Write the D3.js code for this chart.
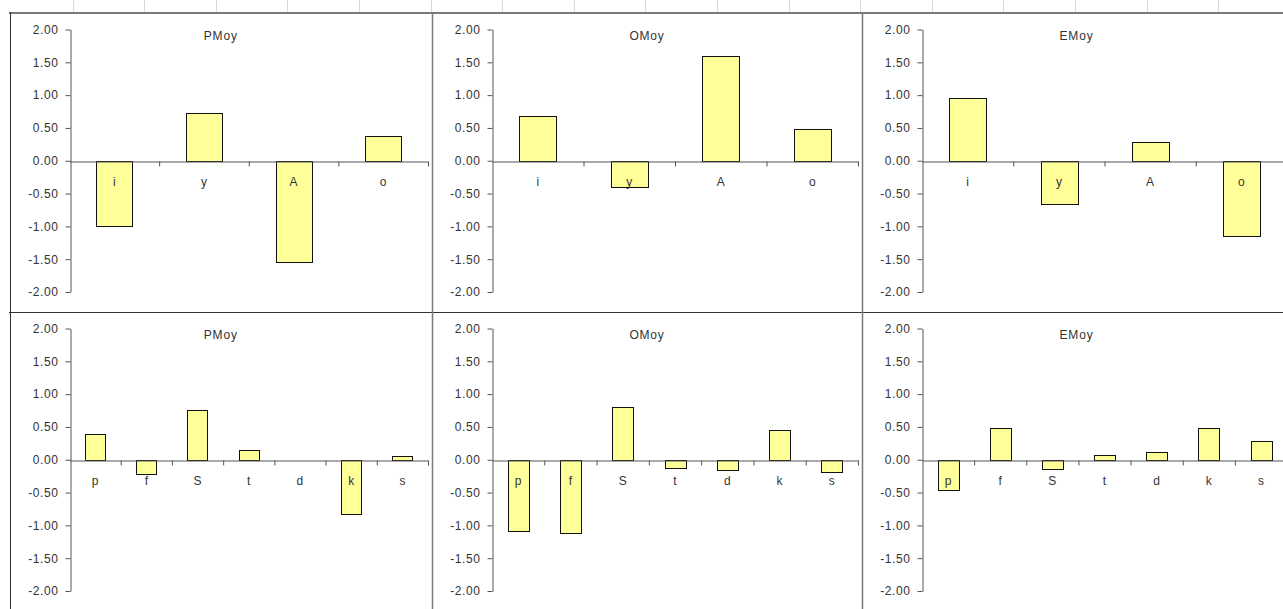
<!DOCTYPE html>
<html>
<head>
<meta charset="utf-8">
<script src="https://cdn.jsdelivr.net/npm/d3@7"></script>
<style>
  html, body { margin: 0; padding: 0; background: #fff; }
  svg { display: block; }
  text { font-family: "Liberation Sans", Arial, sans-serif; fill: #333; }
</style>
</head>
<body>
<div id="chart"></div>
<script>
// categories
const vowelCats = ["i", "y", "A", "o"];
const consCats = ["p", "f", "S", "t", "d", "k", "s"];
const seriesNames = ["PMoy", "OMoy", "EMoy"];

// values
const vowelPMoy = [-0.99, 0.73, -1.54, 0.38];
const vowelOMoy = [0.68, -0.40, 1.60, 0.49];
const vowelEMoy = [0.95, -0.66, 0.28, -1.15];
const consPMoy = [0.39, -0.22, 0.76, 0.15, 0.00, -0.83, 0.05];
const consOMoy = [-1.08, -1.12, 0.81, -0.13, -0.15, 0.45, -0.19];
const consEMoy = [-0.46, 0.49, -0.14, 0.07, 0.12, 0.49, 0.28];

const yTicks = [2, 1.5, 1, 0.5, 0, -0.5, -1, -1.5, -2];

const width = 1283, height = 609;

// panel frames (spreadsheet chart objects)
const colEdges = [9.5, 432, 862, 1291];
const rowEdges = [13, 312, 611];

const rows = [
    { cats: vowelCats, series: [vowelPMoy, vowelOMoy, vowelEMoy] },
    { cats: consCats, series: [consPMoy, consOMoy, consEMoy] }
];

const svg = d3.select("#chart").append("svg")
    .attr("width", width)
    .attr("height", height);

// faint spreadsheet column lines above the charts
svg.append("g")
    .selectAll("line")
    .data(d3.range(17).map(i => 72.5 + i * 71.6))
    .join("line")
    .attr("x1", d => Math.round(d) + 0.5)
    .attr("x2", d => Math.round(d) + 0.5)
    .attr("y1", 0)
    .attr("y2", 12)
    .attr("stroke", "#dadada");

rows.forEach((row, r) => {
    row.series.forEach((values, c) => {
        const left = colEdges[c], right = colEdges[c + 1];
        const top = rowEdges[r];
        const x0 = left + 60, x1 = right - 4;
        const yTop = top + 16.5, yBot = top + 279;

        const g = svg.append("g");

        const y = d3.scaleLinear().domain([-2, 2]).range([yBot, yTop]);
        const x = d3.scaleBand()
            .domain(row.cats)
            .range([x0, x1])
            .paddingInner(0.6)
            .paddingOuter(0.3);

        // title, centred on the chart object
        g.append("text")
            .attr("x", (left + right) / 2)
            .attr("y", top + 27)
            .attr("text-anchor", "middle")
            .attr("font-size", "12px")
            .attr("letter-spacing", "0.8px")
            .text(seriesNames[c]);

        // bars
        g.selectAll("rect.bar")
            .data(values)
            .join("rect")
            .attr("class", "bar")
            .attr("x", (d, i) => Math.round(x(row.cats[i])) + 0.5)
            .attr("width", Math.round(x.bandwidth()))
            .attr("y", d => Math.round(y(Math.max(0, d))) + 0.5)
            .attr("height", d => Math.abs(Math.round(y(d)) - Math.round(y(0))))
            .attr("fill", "#ffff99")
            .attr("stroke", "#111")
            .attr("stroke-width", 1);

        // y axis
        const yAxis = g.append("g")
            .attr("transform", `translate(${Math.round(x0) + 0.5},0)`)
            .call(d3.axisLeft(y)
                .tickValues(yTicks)
                .tickSize(5)
                .tickSizeOuter(0)
                .tickPadding(7)
                .tickFormat(d => d.toFixed(2)));

        // x axis: ticks at category boundaries
        const xb = d3.scaleLinear().domain([0, row.cats.length]).range([x0, x1]);
        const xAxis = g.append("g")
            .attr("transform", `translate(0,${Math.round(y(0)) + 0.5})`)
            .call(d3.axisBottom(xb)
                .tickValues(d3.range(1, row.cats.length + 1))
                .tickSize(5)
                .tickSizeOuter(0)
                .tickFormat(""));

        [yAxis, xAxis].forEach(a => {
            a.select(".domain").attr("stroke", "#555");
            a.selectAll(".tick line").attr("stroke", "#555");
        });
        yAxis.selectAll(".tick text")
            .attr("font-size", "12px")
            .attr("letter-spacing", "0.6px")
            .attr("fill", "#333")
            .style("font-family", "'Liberation Sans', Arial, sans-serif");

        // category labels
        g.selectAll("text.cat")
            .data(row.cats)
            .join("text")
            .attr("class", "cat")
            .attr("x", d => x(d) + x.bandwidth() / 2)
            .attr("y", y(0) + 25)
            .attr("text-anchor", "middle")
            .attr("font-size", "12px")
            .text(d => d);
    });
});

// chart object borders
svg.append("line")
    .attr("x1", 9).attr("x2", width)
    .attr("y1", 13).attr("y2", 13)
    .attr("stroke", "#7a7a7a").attr("stroke-width", 2);
svg.append("line")
    .attr("x1", 9).attr("x2", width)
    .attr("y1", 312.5).attr("y2", 312.5)
    .attr("stroke", "#333");
svg.append("g")
    .selectAll("line")
    .data(colEdges.slice(0, 3))
    .join("line")
    .attr("x1", d => Math.round(d) + 0.5)
    .attr("x2", d => Math.round(d) + 0.5)
    .attr("y1", 12)
    .attr("y2", height)
    .attr("stroke", (d, i) => i === 0 ? "#333" : "#7a7a7a")
    .attr("stroke-width", (d, i) => i === 0 ? 1 : 1.5);
</script>
</body>
</html>
